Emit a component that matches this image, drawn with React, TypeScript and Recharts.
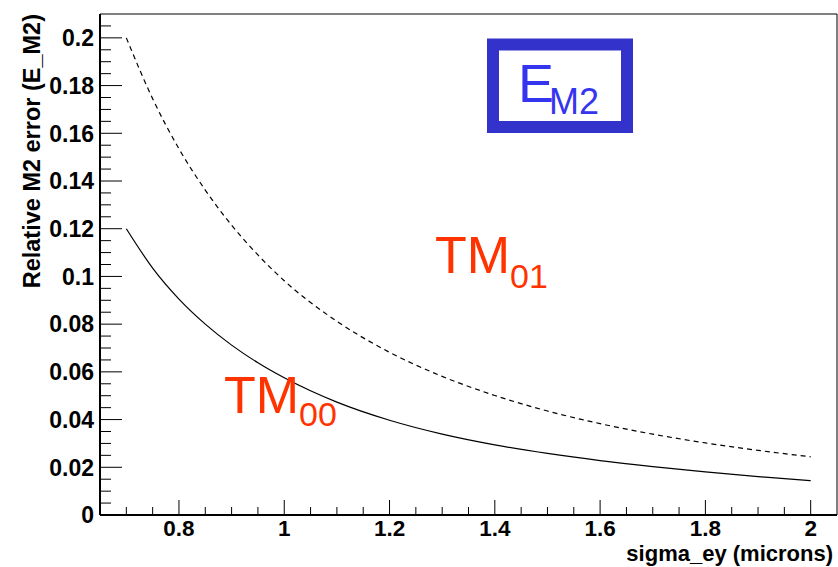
import React from "react";
import {
  LineChart,
  Line,
  XAxis,
  YAxis,
  ReferenceArea,
} from "recharts";

// sigma_ey (microns)
const sigmaEy = [0.7, 0.75, 0.8, 0.85, 0.9, 0.95, 1.0, 1.1, 1.2, 1.3, 1.4, 1.5, 1.6, 1.7, 1.8, 1.9, 2.0];
// relative M2 error, TM00 (solid)
const tm00 = [0.12, 0.1035, 0.0905, 0.08, 0.0712, 0.0638, 0.0575, 0.0473, 0.0397, 0.0339, 0.0294, 0.0258, 0.0228, 0.0203, 0.0181, 0.0161, 0.0144];
// relative M2 error, TM01 (dashed)
const tm01 = [0.2, 0.1745, 0.1535, 0.1362, 0.1215, 0.109, 0.0982, 0.0812, 0.0682, 0.0581, 0.0501, 0.0436, 0.0383, 0.0339, 0.0302, 0.0271, 0.0244];

const xMajorTicks = [0.8, 1, 1.2, 1.4, 1.6, 1.8, 2];
const yMajorTicks = [0, 0.02, 0.04, 0.06, 0.08, 0.1, 0.12, 0.14, 0.16, 0.18, 0.2];

const xAllTicks: number[] = [];
for (let i = 14; i <= 40; i++) xAllTicks.push(Math.round(i * 5) / 100);
const yAllTicks: number[] = [];
for (let i = 0; i <= 41; i++) yAllTicks.push(Math.round(i * 5) / 1000);

const data = sigmaEy.map((x, i) => ({ x, tm00: tm00[i], tm01: tm01[i] }));

const isMajor = (v: number, list: number[]) => list.some((m) => Math.abs(m - v) < 1e-6);
const font = "'Liberation Sans', Arial, Helvetica, sans-serif";

const YTick = (props: any) => {
  const { x, y, payload } = props;
  const major = isMajor(payload.value, yMajorTicks);
  return (
    <g>
      <line x1={x} x2={x + (major ? 22 : 11)} y1={y} y2={y} stroke="#000" strokeWidth={1} />
      {major && (
        <text x={x - 6} y={y} dy="0.36em" textAnchor="end" fontFamily={font} fontWeight="bold" fontSize={23} fill="#000">
          {String(payload.value)}
        </text>
      )}
    </g>
  );
};

const XTick = (props: any) => {
  const { x, y, payload } = props;
  const major = isMajor(payload.value, xMajorTicks);
  return (
    <g>
      <line x1={x} x2={x} y1={y} y2={y - (major ? 15 : 8)} stroke="#000" strokeWidth={1} />
      {major && (
        <text x={x} y={y + 21} textAnchor="middle" fontFamily={font} fontWeight="bold" fontSize={22.5} fill="#000">
          {String(payload.value)}
        </text>
      )}
    </g>
  );
};

const App: React.FC = () => {
  return (
    <div style={{ position: "absolute", left: 0, top: 0, width: 838, height: 567, background: "#fff" }}>
      <LineChart width={838} height={567} data={data} margin={{ top: 14, right: 1, left: 0, bottom: 0 }}>
        <XAxis
          dataKey="x"
          type="number"
          domain={[0.65, 2.05]}
          allowDataOverflow
          ticks={xAllTicks}
          interval={0}
          tickSize={0}
          tickMargin={0}
          tick={<XTick />}
          tickLine={false}
          height={52}
          axisLine={{ stroke: "#000", strokeWidth: 2 }}
        />
        <YAxis
          type="number"
          domain={[0, 0.21]}
          allowDataOverflow
          ticks={yAllTicks}
          interval={0}
          tickSize={0}
          tickMargin={0}
          tick={<YTick />}
          tickLine={false}
          width={100}
          axisLine={{ stroke: "#000", strokeWidth: 2 }}
        />
        <ReferenceArea x1={0.65} x2={2.05} y1={0} y2={0.21} fill="none" stroke="#000" strokeWidth={1} />
        <Line type="monotone" dataKey="tm01" stroke="#000" strokeWidth={1.2} strokeDasharray="5 4" dot={false} isAnimationActive={false} />
        <Line type="monotone" dataKey="tm00" stroke="#000" strokeWidth={1.2} dot={false} isAnimationActive={false} />
      </LineChart>
      <svg width={838} height={567} style={{ position: "absolute", left: 0, top: 0, pointerEvents: "none" }}>
        <text x={833} y={561} textAnchor="end" fontFamily={font} fontWeight="bold" fontSize={22} fill="#000">
          sigma_ey (microns)
        </text>
        <text x={40} y={14} transform="rotate(-90 40 14)" textAnchor="end" fontFamily={font} fontWeight="bold" fontSize={23.5} fill="#000">
          Relative M2 error (E_M2)
        </text>
        <rect x={493} y={44.5} width={134} height={82.5} fill="none" stroke="#3333cc" strokeWidth={12} />
        <text x={518} y={102} fontFamily={font} fontSize={54} fill="#3535f0">
          E<tspan fontSize={36} dx={-5} dy={12}>M2</tspan>
        </text>
        <text x={435} y={273} fontFamily={font} fontSize={52} fill="#ff3300">
          TM<tspan fontSize={34} dy={15}>01</tspan>
        </text>
        <text x={224} y={413} fontFamily={font} fontSize={52} fill="#ff3300">
          TM<tspan fontSize={34} dy={13}>00</tspan>
        </text>
      </svg>
    </div>
  );
};

export default App;
